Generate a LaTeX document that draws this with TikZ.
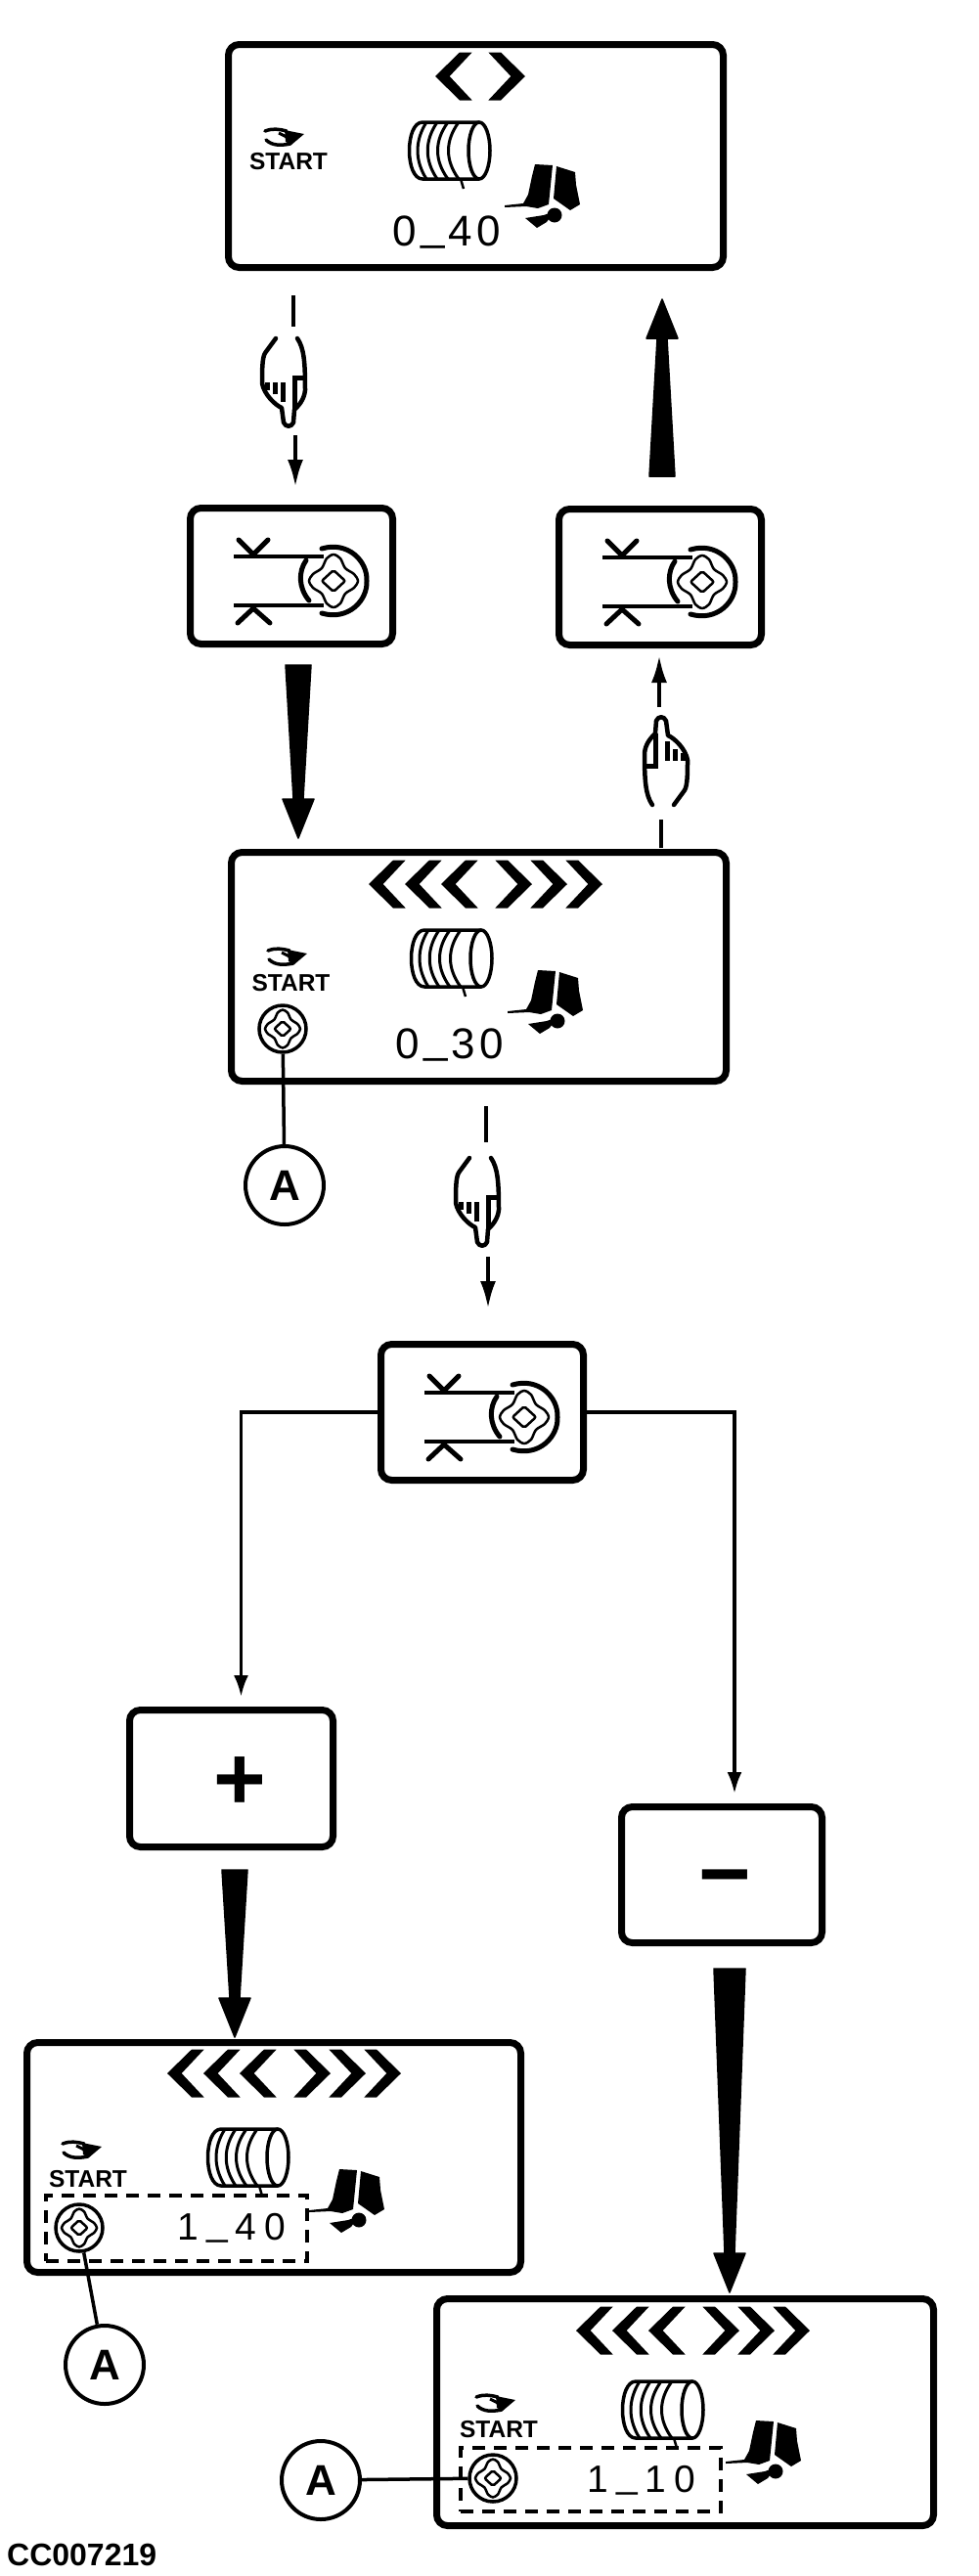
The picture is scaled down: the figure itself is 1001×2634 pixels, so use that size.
\documentclass[tikz,border=0pt]{standalone}
\usepackage{fontspec}
\setmainfont{Liberation Sans}
\usetikzlibrary{arrows.meta,calc}
\newcommand{\lcdsp}{.1em}
\newcommand{\lcdgap}{\hspace{\lcdsp}}
\newcommand{\lcdbar}{\lcdgap\raisebox{.125em}{\_}\lcdgap}
% tapered solid arrow, base coordinate to tip coordinate
\newcommand{\bigarrow}[3][13pt]{%
\coordinate (headbase) at ($(#3)!40pt!(#2)$);
\filldraw[line width=1.5pt,line join=round] ($(#2)!#1!90:(#3)$) -- ($(headbase)!5pt!90:(#3)$) -- ($(headbase)!16pt!90:(#3)$) -- (#3) -- ($(headbase)!16pt!-90:(#3)$) -- ($(headbase)!5pt!-90:(#3)$) -- ($(#2)!#1!-90:(#3)$) -- cycle;}
\tikzset{
  panel/.style={draw,rounded corners=11pt,line width=7pt,inner sep=0pt,anchor=north west,minimum width=#1-7pt},
  keybox/.style={panel=214pt,minimum height=139pt},
  dashframe/.style={draw,line width=4pt,inner sep=0pt,anchor=north west,dash pattern=on 13pt off 9pt},
  knobring/.style={draw,circle,line width=3.5pt,inner sep=0pt,minimum size=48pt},
  callout/.style={draw,circle,line width=4pt,inner sep=0pt,minimum size=80pt,font=\bfseries\fontsize{44}{44}\selectfont},
  leader/.style={line width=3.5pt},
  starttext/.style={inner sep=0pt,font=\bfseries\fontsize{24.5}{24.5}\selectfont},
  lcdtext/.style={inner sep=0pt,anchor=base west,font=\fontsize{44}{44}\selectfont},
  lcdlow/.style={inner sep=0pt,anchor=base west,font=\fontsize{39}{39}\selectfont\renewcommand{\lcdsp}{.21em}},
  pushline/.style={line width=4pt},
  pusharrow/.style={line width=4pt,-{Latex[length=28pt,width=16pt]}},
  branch/.style={line width=3.5pt,-{Latex[length=22pt,width=15pt]},shorten >=10pt},
  pics/chev/.style={code={
    \fill (0,0) -- (25,-24.5) -- (37.7,-24.5) -- (14.7,0) -- (37.7,24.5) -- (25,24.5) -- cycle;}},
  pics/chevrows/.style={code={
    \pic at (0,0) {chev}; \pic at (37,0) {chev}; \pic at (74,0) {chev};
    \pic[xscale=-1] at (167,0) {chev}; \pic[xscale=-1] at (203,0) {chev}; \pic[xscale=-1] at (239,0) {chev};}},
  pics/drum/.style={code={
    \draw[line width=3.5pt,line join=round] (30,-29) -- (-28,-29) .. controls (-46,-29) and (-46,29) .. (-28,29) -- (30,29);
    \draw[line width=3.5pt] (30,0) ellipse [x radius=11,y radius=29];
    \draw[line width=3pt] (-24,-29) .. controls (-36,-10) and (-36,10) .. (-24,29);
    \draw[line width=3pt] (-13,-29) .. controls (-26,-10) and (-26,10) .. (-13,29);
    \draw[line width=3pt] (-2,-29) .. controls (-16,-10) and (-16,10) .. (-2,29);
    \draw[line width=3pt] (9,-29) .. controls (-5,-10) and (-5,10) .. (9,29);
    \draw[line width=2.5pt] (11,29) -- (14,39);}},
  pics/seat/.style={code={
    \fill (-17,-28) -- (1,-27) -- (-3,13) -- (-14,17) -- (-26,15) -- (-48,16) -- (-48,14) -- (-29,12) -- (-24,3) -- (-20,-16) -- cycle;
    \fill (5,-26) -- (24,-20) -- (25,-7) -- (29,13) -- (19,19) -- (2,7) -- cycle;
    \fill (-27,27) -- (-8,24) -- (3,20) -- (-5,31) -- (-15,37) -- cycle;
    \fill (3,24) circle [radius=7.5];}},
  pics/eye/.style={code={
    \draw[line width=3.5pt,line cap=round] (-20,-6) .. controls (-12,-9) and (-6,-8) .. (2,-6);
    \draw[line width=3.5pt,line cap=round] (-19,3) .. controls (-13,9) and (-4,9) .. (6,7);
    \draw[line width=3pt] (-6,-4) -- (2,0);
    \fill (0,-7) -- (20,-3) -- (7,8) -- (1,5) -- cycle;}},
  pics/knobmark/.style={code={
    \draw[line width=2.5pt] plot[smooth cycle] coordinates {(0,-27) (7,-23) (12,-13) (21,-7) (25,0) (21,7) (12,13) (7,23) (0,27) (-7,23) (-12,13) (-21,7) (-25,0) (-21,-7) (-12,-13) (-7,-23)};
    \draw[line width=2.5pt,rounded corners=2pt] (0,-11) -- (12,0) -- (0,11) -- (-12,0) -- cycle;}},
  pics/keymark/.style={code={
    \draw[line width=3.5pt] (-59,-20) -- (33,-20);
    \draw[line width=3.5pt] (-59,30) -- (33,30);
    \draw[line width=5pt,line cap=round] (-54,-37) -- (-39,-22) -- (-24,-37);
    \draw[line width=5pt,line cap=round] (-55,48) -- (-39,33) -- (-22,48);
    \draw[line width=5pt,line cap=round] (15,-16) .. controls (7,-5) and (7,12) .. (18,25);
    \draw[line width=5pt,line cap=round] (31,-28) .. controls (58,-36) and (78,-15) .. (77,5) .. controls (78,25) and (58,46) .. (31,38);
    \pic at (43,5) {knobmark};}},
  pics/handmark/.style={code={
    \draw[line width=4.5pt,line cap=round,line join=round] (-9,45) .. controls (-16,35) and (-17,20) .. (-17,-8) .. controls (-16,-18) and (-10,-24) .. (-6,-28) -- (-5,-41) .. controls (-3,-46) and (3,-46) .. (5,-41) -- (7,-26) .. controls (14,-23) and (25,-12) .. (27,-1) .. controls (27,12) and (27,25) .. (24,30) -- (13,45);
    \draw[line width=5pt] (-6,-28) -- (-6,5) -- (-15,5);
    \draw[line width=5pt] (6,-20) -- (6,0);
    \draw[line width=5pt] (14,-12) -- (14,0);
    \draw[line width=5pt] (22,-8) -- (22,0);}},
}
\begin{document}
\begin{tikzpicture}[x=1pt,y=-1pt]
\useasboundingbox (0,0) rectangle (1001,2634);
% display panels and key boxes
\node[panel=513pt,minimum height=228pt] (disp1) at (230,42) {};
\node[keybox] (key1) at (191,516) {};
\node[keybox] (key2) at (568,517) {};
\node[panel=513pt,minimum height=234pt] (disp2) at (233,868) {};
\node[keybox] (key3) at (386,1371) {};
\node[panel=215pt,minimum height=140pt] (plusbox) at (129,1745) {};
\node[panel=212pt,minimum height=139pt] (minusbox) at (632,1844) {};
\node[panel=512pt,minimum height=235pt] (disp3) at (24,2085) {};
\node[panel=515pt,minimum height=232pt] (disp4) at (443,2347) {};
\pic at (key1) {keymark};
\pic at (key2) {keymark};
\pic at (key3) {keymark};
\node[inner sep=0pt,font=\bfseries\fontsize{92}{92}\selectfont] (plusmark) at (245,1824) {+};
\node[inner sep=0pt,font=\bfseries\fontsize{92}{92}\selectfont] (minusmark) at (741,1930) {−};
% first display
\begin{scope}[shift={(disp1.north west)}]
\pic at (215,36) {chev};
\pic[xscale=-1] at (307,36) {chev};
\pic at (230,112) {drum};
\pic at (334,154) {seat};
\pic at (61,98) {eye};
\node[starttext] (start1) at (65,123) {START};
\node[lcdtext] (value1) at (171,209) {0\lcdbar 4\lcdgap 0};
\end{scope}
% second display
\begin{scope}[shift={(disp2.north west)}]
\pic at (144,36) {chevrows};
\pic at (229,112) {drum};
\pic at (334,152) {seat};
\pic at (61,110) {eye};
\node[starttext] (start2) at (64.5,137) {START};
\node[knobring] (knob2) at (56,184) {};
\pic[scale=.72] at (knob2) {knobmark};
\node[lcdtext] (value2) at (171,214) {0\lcdbar 3\lcdgap 0};
\end{scope}
% left result display
\begin{scope}[shift={(disp3.north west)}]
\pic at (147,35) {chevrows};
\pic at (230,121) {drum};
\pic at (340,161) {seat};
\pic at (60,113) {eye};
\node[starttext] (start3) at (66,143) {START};
\node[dashframe,minimum width=267pt,minimum height=67pt] (frame3) at (21,158) {};
\node[knobring] (knob3) at (57,193) {};
\pic[scale=.72] at (knob3) {knobmark};
\node[lcdlow] (value3) at (157,205) {1\lcdbar 4\lcdgap 0};
\end{scope}
% right result display
\begin{scope}[shift={(disp4.north west)}]
\pic at (146,36) {chevrows};
\pic at (235,117) {drum};
\pic at (347,156) {seat};
\pic at (64,110) {eye};
\node[starttext] (start4) at (67,137) {START};
\node[dashframe,minimum width=266pt,minimum height=65pt] (frame4) at (26,154) {};
\node[knobring] (knob4) at (61,187) {};
\pic[scale=.72] at (knob4) {knobmark};
\node[lcdlow] (value4) at (157,201) {1\lcdbar 1\lcdgap 0};
\end{scope}
% callouts
\node[callout] (callA2) at (291,1212) {A};
\node[callout] (callA3) at (107,2418) {A};
\node[callout] (callA4) at (328,2536) {A};
\draw[leader] (knob2) -- (callA2);
\draw[leader] (knob3) -- (callA3);
\draw[leader] (knob4) -- (callA4);
% push connectors with the hand in the gap
\coordinate (push1a) at (300,302);
\coordinate (push1b) at (300,334);
\coordinate (push1c) at (302,445);
\pic[rotate=180] at (295,391) {handmark};
\draw[pushline] (push1a) -- (push1b);
\draw[pusharrow,shorten >=18pt] (push1c) -- (push1c |- key1.north);
\coordinate (push2a) at (676,867);
\coordinate (push2b) at (676,838);
\coordinate (push2c) at (674,723);
\pic at (676,778) {handmark};
\draw[pushline] (push2a) -- (push2b);
\draw[pusharrow,shorten >=7pt] (push2c) -- (push2c |- key2.south);
\coordinate (push3a) at (497,1131);
\coordinate (push3b) at (497,1168);
\coordinate (push3c) at (499,1285);
\pic[rotate=180] at (493,1229) {handmark};
\draw[pushline] (push3a) -- (push3b);
\draw[pusharrow,shorten >=33pt] (push3c) -- (push3c |- key3.north);
% solid arrows
\coordinate (big1a) at (677,487);
\coordinate (big1b) at (677,306);
\coordinate (big2a) at (305,680);
\coordinate (big2b) at (305,857);
\coordinate (big3a) at (240,1912);
\coordinate (big3b) at (240,2083);
\coordinate (big4a) at (746,2013);
\coordinate (big4b) at (746,2344);
\bigarrow{big1a}{big1b}
\bigarrow{big2a}{big2b}
\bigarrow{big3a}{big3b}
\bigarrow[16pt]{big4a}{big4b}
% branches out of the third key box
\draw[branch] (key3.west) -| ([xshift=10pt]plusbox.north);
\draw[branch] (key3.east) -| ([xshift=13pt]minusbox.north);
\node[inner sep=0pt,anchor=base west,font=\bfseries\fontsize{32}{32}\selectfont] (figcode) at (7,2623) {CC007219};
\end{tikzpicture}
\end{document}
